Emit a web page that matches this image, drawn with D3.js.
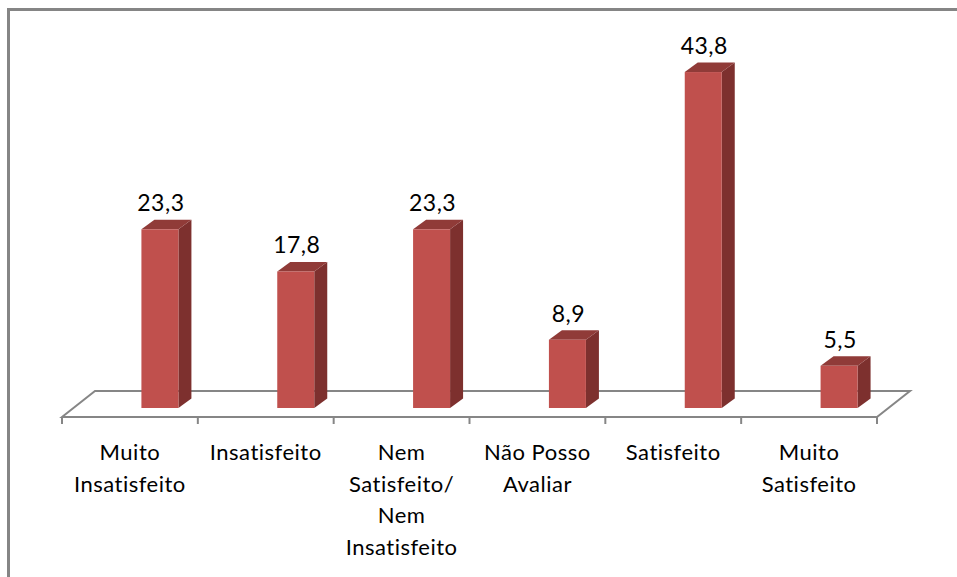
<!DOCTYPE html>
<meta charset="utf-8">
<html>
<head>
  <meta charset="utf-8">
  <title>Satisfacao</title>
</head>
<style>
  body { margin: 0; background: #fff; }
  text { font-family: Lato, "Open Sans", sans-serif; fill: #000; letter-spacing: 0.5px; }
</style>
<body>
<svg width="957" height="577"></svg>
<script src="https://cdn.jsdelivr.net/npm/d3@7"></script>
<script>

var categories = ["Muito Insatisfeito", "Insatisfeito", "Nem Satisfeito/ Nem Insatisfeito",
                  "Não Posso Avaliar", "Satisfeito", "Muito Satisfeito"];
var labelLines = [["Muito", "Insatisfeito"], ["Insatisfeito"], ["Nem", "Satisfeito/", "Nem", "Insatisfeito"],
                  ["Não Posso", "Avaliar"], ["Satisfeito"], ["Muito", "Satisfeito"]];
var values = [23.3, 17.8, 23.3, 8.9, 43.8, 5.5];
var valueLabels = ["23,3", "17,8", "23,3", "8,9", "43,8", "5,5"];

var svg = d3.select("svg");

// frame (cropped at right / bottom)
svg.append("path")
    .attr("d", "M8.5,577 L8.5,9.5 L957,9.5")
    .attr("fill", "none")
    .attr("stroke", "#858585")
    .attr("stroke-width", 3);

var floorFront = 417, floorBack = 391, depthX = 33;
var x = d3.scaleBand().domain(categories).range([62, 877]).paddingInner(0).paddingOuter(0);
var y = d3.scaleLinear().domain([0, 50]).range([408, 24.5]);

var barW = 37, dx = 13, dy = 9.5, shift = 30;

// floor
var floor = svg.append("g").attr("stroke", "#868686").attr("stroke-width", 2).attr("fill", "none");
floor.append("path")
    .attr("d", "M62," + floorFront + " L" + (62 + depthX) + "," + floorBack +
               " L" + (877 + depthX) + "," + floorBack + " L877," + floorFront + " Z");

var ticks = categories.map(function(c) { return x(c); }).concat([x.range()[1]]);
floor.selectAll("line.tick")
  .data(ticks)
  .enter().append("line")
    .attr("x1", function(d) { return d; })
    .attr("x2", function(d) { return d; })
    .attr("y1", floorFront)
    .attr("y2", floorFront + 7);

// bars
var bars = svg.append("g").selectAll("g")
  .data(values)
  .enter().append("g");

function left(i) { return x(categories[i]) + x.bandwidth() / 2 + shift - barW / 2; }

bars.append("path")   // side
    .attr("fill", "#7D302E")
    .attr("d", function(d, i) {
      var x0 = left(i) + barW, yt = y(d), yb = y(0);
      return "M" + x0 + "," + yb + " L" + x0 + "," + yt + " L" + (x0 + dx) + "," + (yt - dy) +
             " L" + (x0 + dx) + "," + (yb - dy) + " Z";
    });
bars.append("path")   // top
    .attr("fill", "#903B38")
    .attr("d", function(d, i) {
      var x0 = left(i), yt = y(d);
      return "M" + x0 + "," + yt + " L" + (x0 + barW) + "," + yt + " L" + (x0 + barW + dx) + "," + (yt - dy) +
             " L" + (x0 + dx) + "," + (yt - dy) + " Z";
    });
bars.append("rect")   // front
    .attr("fill", "#C0504D")
    .attr("x", function(d, i) { return left(i); })
    .attr("y", function(d) { return y(d); })
    .attr("width", barW)
    .attr("height", function(d) { return y(0) - y(d); });

bars.append("text")
    .attr("x", function(d, i) { return left(i) + barW / 2 + 1; })
    .attr("y", function(d) { return y(d) - 18; })
    .attr("text-anchor", "middle")
    .attr("font-size", 23)
    .text(function(d, i) { return valueLabels[i]; });

// category labels
var labels = svg.append("g").selectAll("text")
  .data(labelLines)
  .enter().append("text")
    .attr("text-anchor", "middle")
    .attr("font-size", 22);

labels.selectAll("tspan")
  .data(function(d, i) { return d.map(function(t) { return { t: t, i: i }; }); })
  .enter().append("tspan")
    .attr("x", function(d) { return x(categories[d.i]) + x.bandwidth() / 2; })
    .attr("y", function(d, j) { return 460 + j * 31.7; })
    .text(function(d) { return d.t; });

</script>
</body>
</html>
